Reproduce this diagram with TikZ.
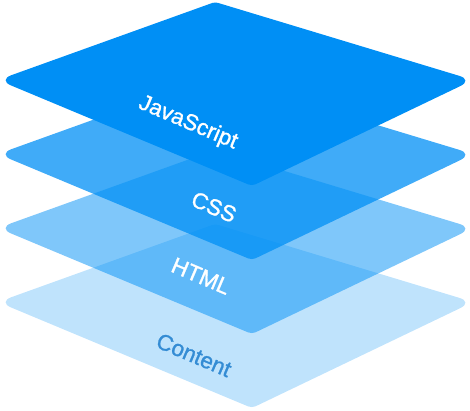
\documentclass[tikz,border=0pt]{standalone}
\usepackage{fontspec}
\setmainfont{Liberation Sans}
\newfontfamily\tagfont[FakeBold=1.2]{Liberation Sans}
\definecolor{layerblue}{RGB}{0,143,245}
\definecolor{contenttext}{RGB}{52,140,212}
\begin{document}
\begin{tikzpicture}[
    x=1pt, y=-1pt,
    layer/.style={fill=layerblue},
    tag/.style={font=\tagfont\fontsize{22.5}{26}\selectfont, text=white, rotate=-23, inner sep=0pt}
  ]
  \useasboundingbox (0,0) rectangle (470,411);
  % stack, bottom layer first
  \foreach \dy/\op in {222/0.25, 148/0.5, 74/0.75, 0/1}
    \fill[layer, fill opacity=\op] (-2,80+\dy) [rounded corners=3pt] -- (215,2+\dy)
      [rounded corners=14pt] -- (473,80+\dy) [rounded corners=4pt] -- (252,186+\dy)
      [rounded corners=14pt] -- cycle;

  \node[tag] (js) at (188,123) {JavaScript};
  \node[tag] (css) at (214,207) {CSS};
  \node[tag] (html) at (201,276) {HTML};
  \node[tag, text=contenttext] (content) at (194,355) {Content};
\end{tikzpicture}
\end{document}
